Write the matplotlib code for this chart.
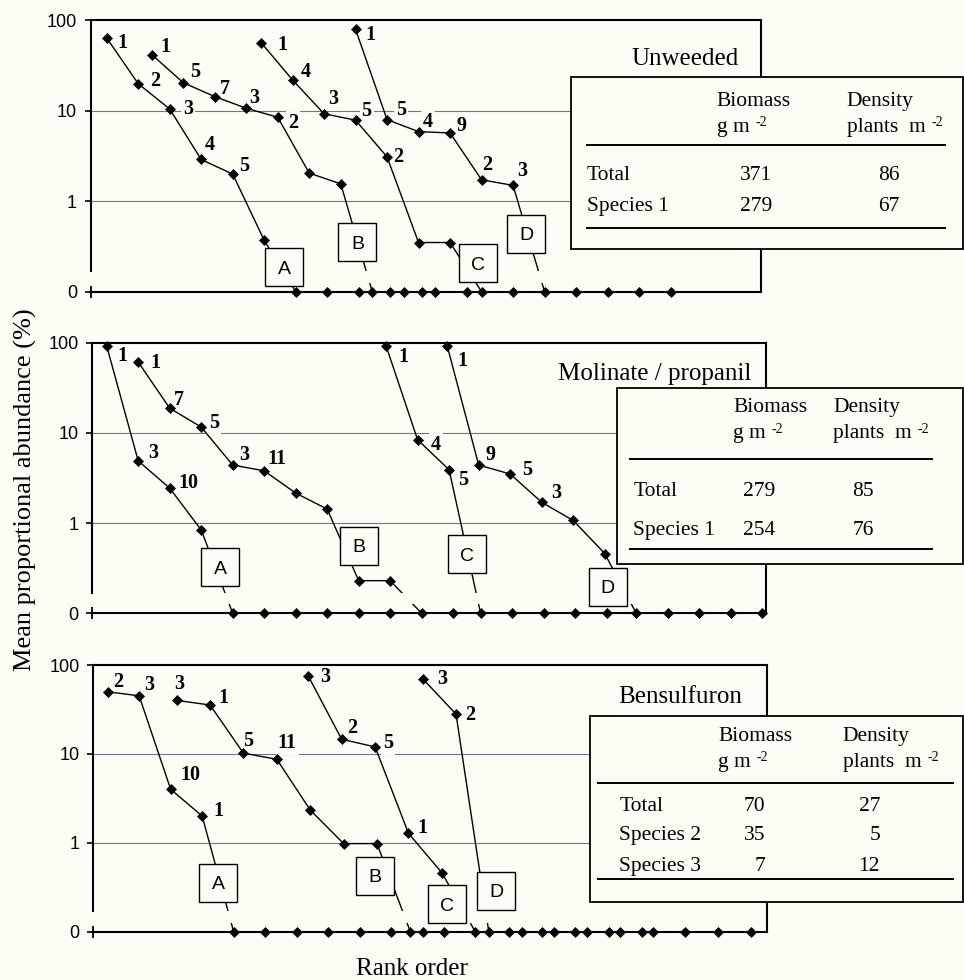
import numpy as np
import matplotlib
matplotlib.use('Agg')
import matplotlib.pyplot as plt
from matplotlib.ticker import NullLocator, FixedLocator, FixedFormatter
from matplotlib.patches import Rectangle

# ---------------- data ----------------
panel_titles = ['Unweeded', 'Molinate / propanil', 'Bensulfuron']
curve_names = ['A', 'B', 'C', 'D']

# Unweeded (values in %, 0 = absent species)
un_A = [64, 20, 10.5, 2.9, 2.0, 0.37, 0, 0, 0, 0, 0]
un_B = [42, 20.5, 14.4, 10.7, 8.5, 2.05, 1.56, 0, 0, 0, 0]
un_C = [57, 22, 9.3, 7.9, 3.1, 0.35, 0.35, 0, 0]
un_D = [80, 8.0, 5.9, 5.7, 1.73, 1.5, 0, 0, 0, 0, 0]
un_sp_A = ['1', '2', '3', '4', '5']
un_sp_B = ['1', '5', '7', '3', '2']
un_sp_C = ['1', '4', '3', '5', '2']
un_sp_D = ['1', '5', '4', '9', '2', '3']
un_rank_start = [1.0, 2.43, 5.9, 8.9]
un_rank_step = [1.0, 1.0, 1.0, 1.0]

# Molinate / propanil
mp_A = [92, 4.9, 2.44, 0.84, 0, 0, 0, 0, 0, 0]
mp_B = [61, 18.8, 11.6, 4.4, 3.8, 2.15, 1.43, 0.23, 0.23, 0, 0]
mp_C = [92, 8.4, 3.9, 0, 0, 0, 0, 0]
mp_D = [92, 4.4, 3.5, 1.7, 1.07, 0.46, 0, 0, 0, 0, 0]
mp_sp_A = ['1', '3', '10']
mp_sp_B = ['1', '7', '5', '3', '11']
mp_sp_C = ['1', '4', '5']
mp_sp_D = ['1', '9', '5', '3']
mp_rank_start = [1.0, 2.0, 9.87, 11.81]
mp_rank_step = [1.0, 1.0, 1.0, 1.0]

# Bensulfuron
be_A = [50, 45, 4.0, 2.0, 0, 0, 0, 0, 0, 0, 0]
be_B = [40, 35.5, 10.2, 8.7, 2.34, 0.98, 0.98, 0, 0]
be_C = [75, 14.6, 12.0, 1.28, 0.46, 0, 0, 0, 0, 0, 0]
be_D = [69, 28, 0, 0, 0, 0, 0, 0, 0, 0, 0]
be_sp_A = ['2', '3', '10', '1']
be_sp_B = ['3', '1', '5', '11']
be_sp_C = ['3', '2', '5', '1']
be_sp_D = ['3', '2']
be_rank_start = [1.03, 3.22, 7.4, 11.05]
be_rank_step = [1.0, 1.06, 1.06, 1.04]

# tables
tab_rows = [['Total', 'Species 1'], ['Total', 'Species 1'], ['Total', 'Species 2', 'Species 3']]
tab_biomass = [['371', '279'], ['279', '254'], ['70', '35', '7']]
tab_density = [['86', '67'], ['85', '76'], ['27', '5', '12']]

y_ticks = [0.1, 1, 10, 100]
y_tick_labels = ['0', '1', '10', '100']

# ---------------- layout / style ----------------
W, H, DPI = 964, 980, 100
BG = '#fdfdf6'
SERIF = ['Liberation Serif', 'DejaVu Serif']
SANS = ['Liberation Sans', 'DejaVu Sans']
ZERO = 0.1
X0, UNIT = 75.2, 31.5
GRID = '#6b7888'

panels = [
    dict(vals=[un_A, un_B, un_C, un_D], sp=[un_sp_A, un_sp_B, un_sp_C, un_sp_D],
         start=un_rank_start, step=un_rank_step, rect=(91, 20.5, 761, 291.7),
         offs=[[(11, -5), (12, 3), (13, 0), (4, 14), (6, 8)],
               [(9, 8), (7, 11), (5, 8), (3, 10), (10, -6)],
               [(16, -2), (8, 8), (4, 15), (6, 9), (6, 0)],
               [(10, -6), (9, 10), (4, 10), (6, 7), (1, 15), (4, 14)]],
         boxes=[(6.64, 0.1875), (8.96, 0.352), (12.8, 0.206), (14.32, 0.435)],
         title=(738.3, 65),
         table=dict(box=(571, 77, 963, 249), rules=(145, 228), rule_x=(587, 945),
                    row_x=587, row_y=[180, 210.5], bio_x=716.7, den_x=846.7,
                    head_y=(106, 131.7), bio_r=772.3, den_r=899.3)),
    dict(vals=[mp_A, mp_B, mp_C, mp_D], sp=[mp_sp_A, mp_sp_B, mp_sp_C, mp_sp_D],
         start=mp_rank_start, step=mp_rank_step, rect=(92.3, 342.7, 766, 613.3),
         offs=[[(11, -10), (10, 8), (9, 5)],
               [(12, -1), (4, 8), (8, 4), (6, 10), (3, 12)],
               [(12, -11), (13, -5), (9, -10)],
               [(10, -15), (7, 10), (12, 4), (9, 9)]],
         boxes=[(4.61, 0.326), (9.02, 0.56), (12.43, 0.449), (16.91, 0.197)],
         title=(751.7, 380),
         table=dict(box=(617, 388, 963, 564), rules=(459.3, 549.3), rule_x=(630, 931.7),
                    row_x=633.3, row_y=[496, 535], bio_x=733.3, den_x=833.3,
                    head_y=(411.7, 438.3), bio_r=775, den_r=874)),
    dict(vals=[be_A, be_B, be_C, be_D], sp=[be_sp_A, be_sp_B, be_sp_C, be_sp_D],
         start=be_rank_start, step=be_rank_step, rect=(93.3, 665, 767, 931.7),
         offs=[[(5, 10), (5, 11), (10, 14), (11, 5)],
               [(-2, 16), (8, 7), (0, 12), (1, 16)],
               [(12, -1), (5, 11), (8, 4), (9, 5)],
               [(14, 0), (9, -1)]],
         boxes=[(4.54, 0.357), (9.52, 0.426), (11.79, 0.203), (13.37, 0.288)],
         title=(741.7, 703.3),
         table=dict(box=(590, 716, 963, 902), rules=(783.3, 879.3), rule_x=(598.3, 953.3),
                    row_x=619.3, row_y=[810.7, 840, 870.7], bio_x=718.3, den_x=842.7,
                    head_y=(741, 766.7), bio_r=765.7, den_r=880)),
]

fig = plt.figure(figsize=(W / DPI, H / DPI), dpi=DPI, facecolor=BG)

for p in panels:
    L, T, R, B = p['rect']
    ax = fig.add_axes([L / W, 1 - B / H, (R - L) / W, (B - T) / H])
    ax.set_facecolor(BG)
    ax.set_yscale('log')
    ax.set_ylim(ZERO, 100)
    ax.set_xlim((L - X0) / UNIT, (R - X0) / UNIT)
    ax.yaxis.set_major_locator(FixedLocator(y_ticks))
    ax.yaxis.set_major_formatter(FixedFormatter(y_tick_labels))
    ax.yaxis.set_minor_locator(NullLocator())
    ax.set_xticks([])
    ax.tick_params(axis='y', direction='out', length=4, width=1.2, pad=6, labelsize=13)
    for lab in ax.get_yticklabels():
        lab.set_fontfamily(SANS)
    for s in ax.spines.values():
        s.set_linewidth(1.5)
    ax.spines['left'].set_bounds(0.17, 100)
    # zero cross mark
    ax.plot([ax.get_xlim()[0]], [ZERO], marker='|', ms=8, mew=1.3, color='black',
            clip_on=False, zorder=6)
    for g in (1, 10):
        ax.axhline(g, color=GRID, lw=0.8, zorder=1)

    for ci in range(4):
        vals = np.array(p['vals'][ci], dtype=float)
        x = p['start'][ci] + p['step'][ci] * np.arange(len(vals))
        y = np.where(vals > 0, vals, ZERO)
        ax.plot(x, y, color='black', lw=1.0, marker='D', ms=5.3, mew=0.5,
                zorder=3, clip_on=False)
        for k, sp in enumerate(p['sp'][ci]):
            dx, dy = p['offs'][ci][k]
            ax.annotate(sp, xy=(x[k], y[k]), xytext=(dx * 0.72, dy * 0.72),
                        textcoords='offset points', ha='left', va='center',
                        fontsize=14.5, fontweight='bold', family=SERIF, zorder=2,
                        bbox=dict(boxstyle='square,pad=0.1', fc=BG, ec='none'))
        bx, by = p['boxes'][ci]
        ax.plot([bx], [by], marker='s', ms=27, mfc=BG, mec='black', mew=1.0,
                linestyle='none', zorder=5)
        ax.text(bx, by, curve_names[ci], ha='center', va='center_baseline',
                fontsize=14, family=SANS, zorder=6)
    # axis break band
    ax.axhspan(0.126, 0.17, xmin=0.004, xmax=0.99, color=BG, lw=0, zorder=4)

# overlay for titles and tables (pixel coordinates)
ov = fig.add_axes([0, 0, 1, 1], zorder=10)
ov.set_xlim(0, W)
ov.set_ylim(H, 0)
ov.axis('off')
ov.patch.set_visible(False)

for i, p in enumerate(panels):
    tx, ty = p['title']
    ov.text(tx, ty, panel_titles[i], ha='right', va='baseline', fontsize=18, family=SERIF)
    t = p['table']
    x0, y0, x1, y1 = t['box']
    ov.add_patch(Rectangle((x0, y0), x1 - x0, y1 - y0, fc=BG, ec='black', lw=1.3, zorder=3))
    for ry in t['rules']:
        ov.plot(t['rule_x'], [ry, ry], color='black', lw=1.4, zorder=4)
    hy1, hy2 = t['head_y']
    ov.text(t['bio_x'], hy1, 'Biomass', ha='left', va='baseline', fontsize=15.5, family=SERIF, zorder=5)
    ov.text(t['den_x'], hy1, 'Density', ha='left', va='baseline', fontsize=15.5, family=SERIF, zorder=5)
    t1 = ov.text(t['bio_x'], hy2, 'g m', ha='left', va='baseline', fontsize=15.5, family=SERIF, zorder=5)
    t2 = ov.text(t['den_x'], hy2, 'plants  m', ha='left', va='baseline', fontsize=15.5, family=SERIF, zorder=5)
    for tt in (t1, t2):
        ov.annotate('-2', xy=(1, 0), xycoords=tt, xytext=(4, 7.5), textcoords='offset points',
                    ha='left', va='baseline', fontsize=10, family=SERIF, zorder=5)
    for r, ry in enumerate(t['row_y']):
        ov.text(t['row_x'], ry, tab_rows[i][r], ha='left', va='baseline', fontsize=15.5, family=SERIF, zorder=5)
        ov.text(t['bio_r'], ry, tab_biomass[i][r], ha='right', va='baseline', fontsize=15.5, family=SERIF, zorder=5)
        ov.text(t['den_r'], ry, tab_density[i][r], ha='right', va='baseline', fontsize=15.5, family=SERIF, zorder=5)

ov.text(25, 490, 'Mean proportional abundance (%)', rotation=90, ha='center', va='center',
        fontsize=19, family=SERIF)
ov.text(411.7, 975, 'Rank order', ha='center', va='baseline', fontsize=18, family=SERIF)

fig.savefig('out.png', dpi=DPI, facecolor=BG)
